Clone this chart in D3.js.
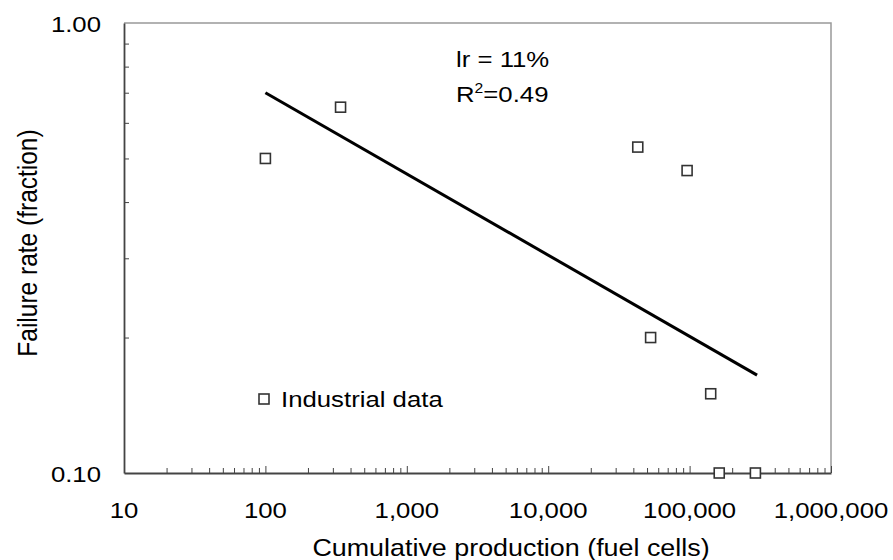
<!DOCTYPE html>
<html>
<head>
<meta charset="utf-8">
<script src="https://cdn.jsdelivr.net/npm/d3@7"></script>
<style>
  body { margin: 0; background: #fff; }
  text { font-family: "Liberation Sans", Arial, sans-serif; fill: #000; }
</style>
</head>
<body>
<script>
// industrial data points (cumulative production, failure rate)
var prodData = [100, 340, 43000, 96000, 53000, 141000, 162000, 292000];
var failData = [0.50, 0.65, 0.53, 0.47, 0.20, 0.15, 0.10, 0.10];

// fitted learning curve end points
var fitProd = [100, 300000];
var fitFail = [0.70, 0.165];

var xTickLabels = ["10", "100", "1,000", "10,000", "100,000", "1,000,000"];
var xTickVals = [10, 100, 1000, 10000, 100000, 1000000];
var yTickLabels = ["0.10", "1.00"];
var yTickVals = [0.1, 1];

var width = 893, height = 560;
var margin = {top: 23, right: 62, bottom: 87, left: 124};
var stretch = 1.12; // text in the picture is a bit wide
var fs = 23;

var svg = d3.select("body").append("svg")
    .attr("width", width)
    .attr("height", height);

var x = d3.scaleLog()
    .domain([10, 1000000])
    .range([margin.left, width - margin.right]);
var y = d3.scaleLog()
    .domain([0.1, 1])
    .range([height - margin.bottom, margin.top]);

// top and right frame
svg.append("path")
    .attr("d", "M" + x(10) + "," + y(1) + "H" + x(1e6) + "V" + y(0.1))
    .attr("fill", "none")
    .attr("stroke", "#999")
    .attr("stroke-width", 1.5);

// minor ticks
var minorX = x.ticks().filter(function(d) { return xTickVals.indexOf(d) < 0; });
var minorY = y.ticks().filter(function(d) { return yTickVals.indexOf(d) < 0; });

svg.append("g")
    .attr("transform", "translate(0," + y(0.1) + ")")
    .call(d3.axisBottom(x).tickValues(minorX).tickSize(-5).tickFormat(""))
    .call(function(g) { g.select(".domain").remove(); })
    .selectAll("line").attr("stroke", "#444");

svg.append("g")
    .attr("transform", "translate(0," + y(0.1) + ")")
    .call(d3.axisBottom(x).tickValues(xTickVals).tickSize(-7).tickSizeOuter(0).tickFormat(""))
    .call(function(g) {
      g.select(".domain").attr("stroke", "#444").attr("stroke-width", 1.8);
      g.selectAll("line").attr("stroke", "#444");
    });

svg.append("g")
    .attr("transform", "translate(" + x(10) + ",0)")
    .call(d3.axisLeft(y).tickValues(minorY).tickSize(-5).tickSizeOuter(0).tickFormat(""))
    .call(function(g) {
      g.select(".domain").attr("stroke", "#444").attr("stroke-width", 1.8);
      g.selectAll("line").attr("stroke", "#444");
    });

// tick labels
svg.selectAll(".xlab")
    .data(xTickVals)
  .enter().append("text")
    .attr("class", "xlab")
    .attr("text-anchor", "middle")
    .attr("font-size", fs)
    .attr("transform", function(d) { return "translate(" + x(d) + ",518) scale(" + stretch + ",1)"; })
    .text(function(d, i) { return xTickLabels[i]; });

svg.selectAll(".ylab")
    .data(yTickVals)
  .enter().append("text")
    .attr("class", "ylab")
    .attr("text-anchor", "end")
    .attr("font-size", fs)
    .attr("transform", function(d) { return "translate(101," + (y(d) + 8.5) + ") scale(" + stretch + ",1)"; })
    .text(function(d, i) { return yTickLabels[i]; });

// axis titles
svg.append("text")
    .attr("text-anchor", "middle")
    .attr("font-size", 24)
    .attr("transform", "translate(511,556) scale(" + stretch + ",1)")
    .text("Cumulative production (fuel cells)");

svg.append("text")
    .attr("text-anchor", "middle")
    .attr("font-size", 24.5)
    .attr("transform", "translate(37,243) rotate(-90) scale(1," + stretch + ")")
    .text("Failure rate (fraction)");

// fit line
var line = d3.line()
    .x(function(d, i) { return x(fitProd[i]); })
    .y(function(d) { return y(d); });

svg.append("path")
    .datum(fitFail)
    .attr("d", line)
    .attr("fill", "none")
    .attr("stroke", "#000")
    .attr("stroke-width", 3);

// data points
var sq = 10;
svg.selectAll(".pt")
    .data(prodData)
  .enter().append("rect")
    .attr("class", "pt")
    .attr("x", function(d) { return x(d) - sq / 2; })
    .attr("y", function(d, i) { return y(failData[i]) - sq / 2; })
    .attr("width", sq)
    .attr("height", sq)
    .attr("fill", "#fff")
    .attr("stroke", "#333")
    .attr("stroke-width", 1.6);

// annotation
svg.append("text")
    .attr("font-size", fs)
    .attr("transform", "translate(456,67) scale(" + stretch + ",1)")
    .text("lr = 11%");

var r2 = svg.append("text")
    .attr("font-size", fs)
    .attr("transform", "translate(456,102) scale(" + stretch + ",1)");
r2.append("tspan").text("R");
r2.append("tspan").attr("font-size", 14).attr("dy", -9).text("2");
r2.append("tspan").attr("dy", 9).text("=0.49");

// legend
svg.append("rect")
    .attr("x", 264 - sq / 2)
    .attr("y", 399 - sq / 2)
    .attr("width", sq)
    .attr("height", sq)
    .attr("fill", "#fff")
    .attr("stroke", "#333")
    .attr("stroke-width", 1.6);

svg.append("text")
    .attr("font-size", fs)
    .attr("transform", "translate(281,407) scale(" + stretch + ",1)")
    .text("Industrial data");
</script>
</body>
</html>
